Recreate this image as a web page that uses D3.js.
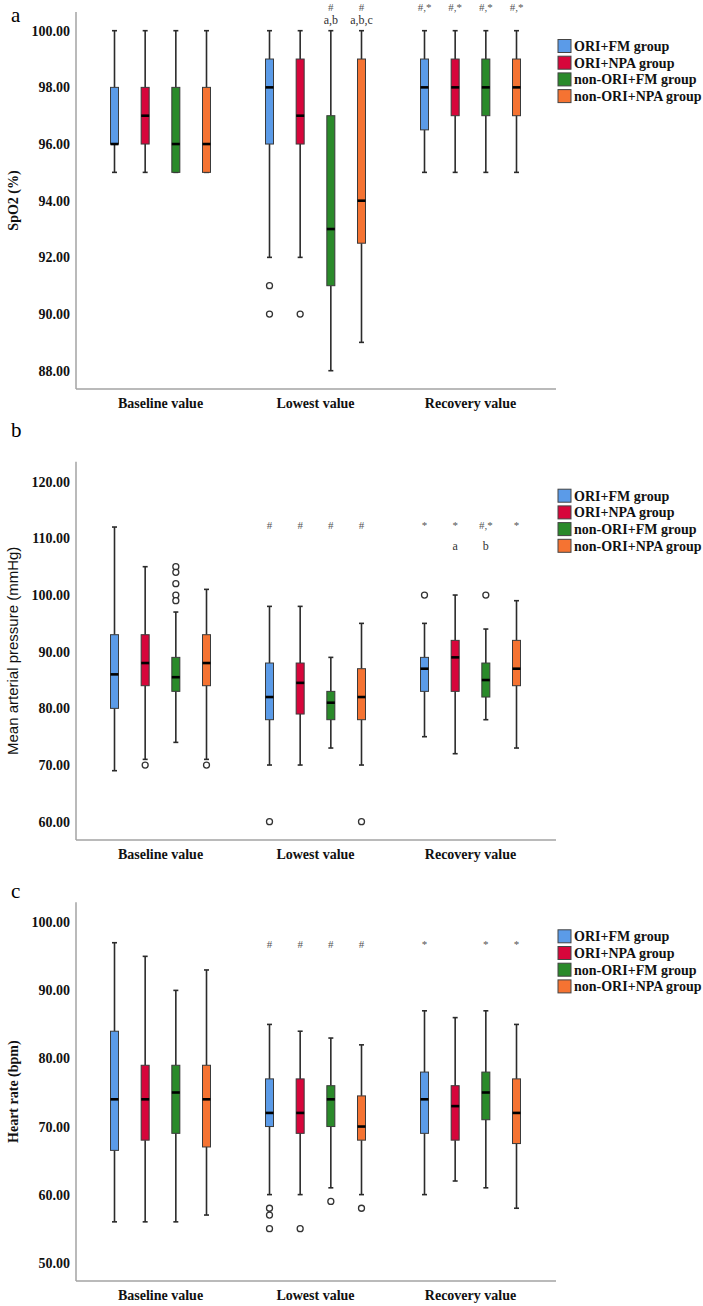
<!DOCTYPE html>
<html>
<head>
<meta charset="utf-8">
<script src="https://cdn.jsdelivr.net/npm/d3@7"></script>
<style>
  body { margin: 0; background: #fff; }
  svg { display: block; }
</style>
</head>
<body>
<div id="chart"></div>
<script>
// three SPSS style boxplots stacked: SpO2, MAP, HR

var categories = ["Baseline value", "Lowest value", "Recovery value"];
var groups = ["ORI+FM group", "ORI+NPA group", "non-ORI+FM group", "non-ORI+NPA group"];
var groupColors = ["#5b9be8", "#d7063b", "#2a8a2a", "#f57332"];

// [min, q1, median, q3, max] for each category, then each group
var spo2Stats = [
  [[95, 96, 96, 98, 100], [95, 96, 97, 98, 100], [95, 95, 96, 98, 100], [95, 95, 96, 98, 100]],
  [[92, 96, 98, 99, 100], [92, 96, 97, 99, 100], [88, 91, 93, 97, 100], [89, 92.5, 94, 99, 100]],
  [[95, 96.5, 98, 99, 100], [95, 97, 98, 99, 100], [95, 97, 98, 99, 100], [95, 97, 98, 99, 100]]
];
var spo2Outliers = [
  [[], [], [], []],
  [[91, 90], [90], [], []],
  [[], [], [], []]
];
var spo2Ticks = [88, 90, 92, 94, 96, 98, 100];
// [category, group, first line, second line]
var spo2Notes = [
  [1, 2, "#", "a,b"], [1, 3, "#", "a,b,c"],
  [2, 0, "#,*", ""], [2, 1, "#,*", ""], [2, 2, "#,*", ""], [2, 3, "#,*", ""]
];

var mapStats = [
  [[69, 80, 86, 93, 112], [71, 84, 88, 93, 105], [74, 83, 85.5, 89, 97], [71, 84, 88, 93, 101]],
  [[70, 78, 82, 88, 98], [70, 79, 84.5, 88, 98], [73, 78, 81, 83, 89], [70, 78, 82, 87, 95]],
  [[75, 83, 87, 89, 95], [72, 83, 89, 92, 100], [78, 82, 85, 88, 94], [73, 84, 87, 92, 99]]
];
var mapOutliers = [
  [[], [70], [105, 104, 102, 100, 99], [70]],
  [[60], [], [], [60]],
  [[100], [], [100], []]
];
var mapTicks = [60, 70, 80, 90, 100, 110, 120];
var mapNotes = [
  [1, 0, "#", ""], [1, 1, "#", ""], [1, 2, "#", ""], [1, 3, "#", ""],
  [2, 0, "*", ""], [2, 1, "*", "a"], [2, 2, "#,*", "b"], [2, 3, "*", ""]
];

var hrStats = [
  [[56, 66.5, 74, 84, 97], [56, 68, 74, 79, 95], [56, 69, 75, 79, 90], [57, 67, 74, 79, 93]],
  [[60, 70, 72, 77, 85], [60, 69, 72, 77, 84], [61, 70, 74, 76, 83], [60, 68, 70, 74.5, 82]],
  [[60, 69, 74, 78, 87], [62, 68, 73, 76, 86], [61, 71, 75, 78, 87], [58, 67.5, 72, 77, 85]]
];
var hrOutliers = [
  [[], [], [], []],
  [[58, 57, 55], [55], [59], [58]],
  [[], [], [], []]
];
var hrTicks = [50, 60, 70, 80, 90, 100];
var hrNotes = [
  [1, 0, "#", ""], [1, 1, "#", ""], [1, 2, "#", ""], [1, 3, "#", ""],
  [2, 0, "*", ""], [2, 2, "*", ""], [2, 3, "*", ""]
];

// layout of each panel (pixels)
var panels = [
  { letter: "a", letterY: 22, top: 12, bottom: 389, tickTop: 30.7, tickBottom: 370.7,
    title: "SpO2 (%)", sans: false, stats: spo2Stats, outliers: spo2Outliers,
    ticks: spo2Ticks, notes: spo2Notes, note1: 11, note2: 24 },
  { letter: "b", letterY: 437, top: 461.7, bottom: 840, tickTop: 481.7, tickBottom: 821.7,
    title: "Mean arterial pressure (mmHg)", sans: true, stats: mapStats, outliers: mapOutliers,
    ticks: mapTicks, notes: mapNotes, note1: 529, note2: 550 },
  { letter: "c", letterY: 898, top: 902.3, bottom: 1281, tickTop: 922.3, tickBottom: 1262.7,
    title: "Heart rate (bpm)", sans: false, stats: hrStats, outliers: hrOutliers,
    ticks: hrTicks, notes: hrNotes, note1: 948, note2: 969 }
];

var SERIF = "'Liberation Serif', 'Times New Roman', serif";
var SANS = "'Liberation Sans', Arial, sans-serif";

var W = 703, H = 1306;
var axisX = 76, axisRight = 556;
var boxW = 8;

var svg = d3.select("#chart").append("svg")
    .attr("width", W).attr("height", H);

var x = d3.scaleBand().domain(categories).range([83, 548]);
var xg = d3.scalePoint().domain(groups).range([-46, 46]);

panels.forEach(function(p) {
  var g = svg.append("g");
  var y = d3.scaleLinear()
      .domain([p.ticks[0], p.ticks[p.ticks.length - 1]])
      .range([p.tickBottom, p.tickTop]);

  function cx(ci, gi) { return x(categories[ci]) + x.bandwidth() / 2 + xg(groups[gi]); }

  // letter
  g.append("text").style("font-family", SERIF)
      .attr("x", 11).attr("y", p.letterY)
      .style("font-size", "21px").text(p.letter);

  // y axis
  var ya = g.append("g").attr("transform", "translate(" + axisX + ",0)")
      .call(d3.axisLeft(y).tickValues(p.ticks).tickFormat(d3.format(".2f"))
            .tickSize(0).tickPadding(6));
  ya.select(".domain").remove();
  ya.attr("font-family", null).attr("font-size", null);
  ya.selectAll("text").style("font-family", SERIF)
      .style("font-size", "14px").style("font-weight", "bold").attr("fill", "#111");

  // x axis
  var xa = g.append("g").attr("transform", "translate(0," + p.bottom + ")")
      .call(d3.axisBottom(x).tickSize(0).tickPadding(9));
  xa.select(".domain").remove();
  xa.attr("font-family", null).attr("font-size", null);
  xa.selectAll("text").style("font-family", SERIF)
      .style("font-size", "14px").style("font-weight", "bold").attr("fill", "#111");

  // axis lines
  g.append("line").attr("x1", axisX).attr("x2", axisX)
      .attr("y1", p.top).attr("y2", p.bottom)
      .attr("stroke", "#a3a3a3").attr("stroke-width", 1.5);
  g.append("line").attr("x1", axisX).attr("x2", axisRight)
      .attr("y1", p.bottom).attr("y2", p.bottom)
      .attr("stroke", "#a3a3a3").attr("stroke-width", 1.5);

  // y title
  var t = g.append("text")
      .attr("transform", "translate(18," + (p.top + p.bottom) / 2 + ") rotate(-90)")
      .attr("text-anchor", "middle").attr("fill", "#111")
      .text(p.title);
  if (p.sans) {
    t.style("font-family", SANS).style("font-size", "15px");
  } else {
    t.style("font-family", SERIF).style("font-size", "14px").style("font-weight", "bold");
  }

  // boxes
  p.stats.forEach(function(row, ci) {
    row.forEach(function(s, gi) {
      var c = cx(ci, gi);
      var bg = g.append("g");
      // whiskers
      bg.append("line").attr("x1", c).attr("x2", c)
          .attr("y1", y(s[4])).attr("y2", y(s[3]));
      bg.append("line").attr("x1", c).attr("x2", c)
          .attr("y1", y(s[1])).attr("y2", y(s[0]));
      bg.append("line").attr("x1", c - 2.5).attr("x2", c + 2.5)
          .attr("y1", y(s[4])).attr("y2", y(s[4]));
      bg.append("line").attr("x1", c - 2.5).attr("x2", c + 2.5)
          .attr("y1", y(s[0])).attr("y2", y(s[0]));
      bg.selectAll("line").attr("stroke", "#2b2b2b").attr("stroke-width", 1.6);
      bg.append("rect")
          .attr("x", c - boxW / 2).attr("width", boxW)
          .attr("y", y(s[3])).attr("height", y(s[1]) - y(s[3]))
          .attr("fill", groupColors[gi]).attr("stroke", "#3a3a3a").attr("stroke-width", 1);
      bg.append("line").attr("x1", c - boxW / 2).attr("x2", c + boxW / 2)
          .attr("y1", y(s[2])).attr("y2", y(s[2]))
          .attr("stroke", "#000").attr("stroke-width", 2.6);

      p.outliers[ci][gi].forEach(function(v) {
        bg.append("circle").attr("cx", c).attr("cy", y(v)).attr("r", 3)
            .attr("fill", "#fff").attr("stroke", "#333").attr("stroke-width", 1.3);
      });
    });
  });

  // significance marks
  p.notes.forEach(function(n) {
    var c = cx(n[0], n[1]);
    g.append("text").style("font-family", SERIF).attr("x", c).attr("y", p.note1)
        .attr("text-anchor", "middle").attr("fill", "#555")
        .style("font-size", "11px").text(n[2]);
    if (n[3]) {
      g.append("text").style("font-family", SERIF).attr("x", c).attr("y", p.note2)
          .attr("text-anchor", "middle").attr("fill", "#333")
          .style("font-size", "12px").text(n[3]);
    }
  });

  // legend
  var lg = g.append("g").attr("transform", "translate(558," + (p.top + 34) + ")");
  groups.forEach(function(name, i) {
    var row = lg.append("g").attr("transform", "translate(0," + (i * 16.7) + ")");
    row.append("rect").attr("x", 0).attr("y", -6.5).attr("width", 13).attr("height", 13)
        .attr("fill", groupColors[i]).attr("stroke", "#444").attr("stroke-width", 1);
    row.append("text").style("font-family", SERIF).attr("x", 16).attr("y", 5)
        .style("font-size", "14px").style("font-weight", "bold").attr("fill", "#111")
        .text(name);
  });
});
</script>
</body>
</html>
